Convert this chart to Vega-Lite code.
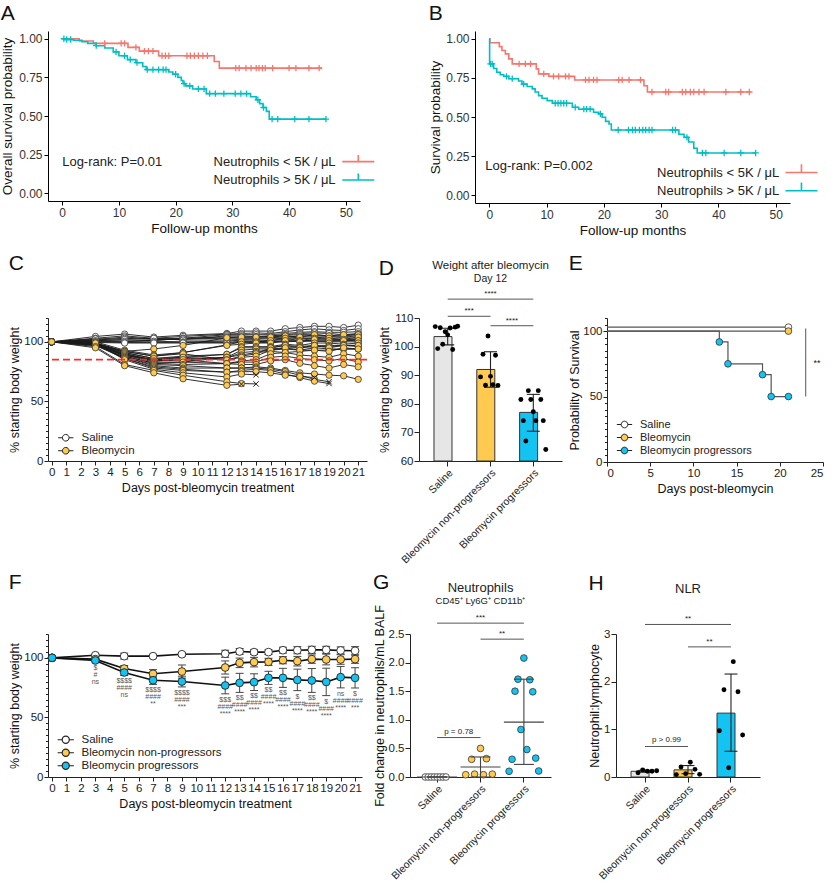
{
"$schema":"https://vega.github.io/schema/vega-lite/v6.json",
"background":"white",
"padding":{"left":0,"top":3,"right":0,"bottom":0},
"spacing":16,
"align":"none",
"resolve":{"scale":{"fill":"independent","color":"independent","xOffset":"independent"}},
"config":{
 "font":"Liberation Sans",
 "view":{"stroke":null},
 "axis":{"domainColor":"#222","tickColor":"#222","labelColor":"#222","titleColor":"#111","titleFontWeight":"normal","labelFontSize":11,"titleFontSize":12,"grid":false,"tickSize":4,"labelPadding":1.5,"titlePadding":3,"labelOverlap":false,"tickCount":100},
 "legend":{"labelFontSize":11,"labelColor":"#222"},
 "title":{"fontWeight":"normal","fontSize":21,"anchor":"start","frame":"bounds","color":"#111"},
 "text":{"color":"#222"}
},
"datasets":{
"kmA":[
{"g":"low","t":0,"s":1},{"g":"low","t":3,"s":0.985},{"g":"low","t":5.5,"s":0.97},{"g":"low","t":11.6,"s":0.944},{"g":"low","t":13.6,"s":0.92},{"g":"low","t":17,"s":0.89},{"g":"low","t":26.8,"s":0.853},{"g":"low","t":27.7,"s":0.81},{"g":"low","t":45.8,"s":0.81},
{"g":"high","t":0,"s":1},{"g":"high","t":0.5,"s":0.995},{"g":"high","t":2,"s":0.99},{"g":"high","t":3.5,"s":0.98},{"g":"high","t":4.5,"s":0.97},{"g":"high","t":6,"s":0.955},{"g":"high","t":7.5,"s":0.94},{"g":"high","t":9,"s":0.915},{"g":"high","t":10,"s":0.89},{"g":"high","t":11.5,"s":0.865},{"g":"high","t":13,"s":0.845},{"g":"high","t":14.2,"s":0.82},{"g":"high","t":14.8,"s":0.8},{"g":"high","t":18.8,"s":0.785},{"g":"high","t":19.5,"s":0.77},{"g":"high","t":20.4,"s":0.75},{"g":"high","t":21,"s":0.73},{"g":"high","t":21.3,"s":0.71},{"g":"high","t":21.8,"s":0.695},{"g":"high","t":23,"s":0.675},{"g":"high","t":25.4,"s":0.645},{"g":"high","t":33.2,"s":0.625},{"g":"high","t":34.2,"s":0.605},{"g":"high","t":34.8,"s":0.58},{"g":"high","t":35.4,"s":0.555},{"g":"high","t":36,"s":0.53},{"g":"high","t":36.5,"s":0.48},{"g":"high","t":46.5,"s":0.48}
],
"cenA":[
{"g":"low","t":7.5,"s":0.97},{"g":"low","t":10.4,"s":0.97},{"g":"low","t":11,"s":0.97},{"g":"low","t":13,"s":0.944},{"g":"low","t":14.5,"s":0.92},{"g":"low","t":15.2,"s":0.92},{"g":"low","t":16,"s":0.92},{"g":"low","t":17.6,"s":0.89},{"g":"low","t":18.2,"s":0.89},{"g":"low","t":18.8,"s":0.89},{"g":"low","t":22,"s":0.89},{"g":"low","t":22.6,"s":0.89},{"g":"low","t":23.3,"s":0.89},{"g":"low","t":24,"s":0.89},{"g":"low","t":24.8,"s":0.89},{"g":"low","t":25.6,"s":0.89},{"g":"low","t":30.6,"s":0.81},{"g":"low","t":31.2,"s":0.81},{"g":"low","t":32.4,"s":0.81},{"g":"low","t":33.3,"s":0.81},{"g":"low","t":34.2,"s":0.81},{"g":"low","t":34.7,"s":0.81},{"g":"low","t":35.3,"s":0.81},{"g":"low","t":35.8,"s":0.81},{"g":"low","t":37.1,"s":0.81},{"g":"low","t":40,"s":0.81},{"g":"low","t":41.2,"s":0.81},{"g":"low","t":43.5,"s":0.81},{"g":"low","t":45.3,"s":0.81},
{"g":"high","t":0.3,"s":1},{"g":"high","t":0.8,"s":0.995},{"g":"high","t":1.5,"s":0.995},{"g":"high","t":6,"s":0.955},{"g":"high","t":9.5,"s":0.915},{"g":"high","t":11,"s":0.89},{"g":"high","t":12,"s":0.865},{"g":"high","t":13.2,"s":0.845},{"g":"high","t":15,"s":0.8},{"g":"high","t":16,"s":0.8},{"g":"high","t":17,"s":0.8},{"g":"high","t":17.8,"s":0.8},{"g":"high","t":18.3,"s":0.8},{"g":"high","t":20,"s":0.77},{"g":"high","t":21.5,"s":0.71},{"g":"high","t":22.5,"s":0.695},{"g":"high","t":24,"s":0.675},{"g":"high","t":25,"s":0.675},{"g":"high","t":26,"s":0.645},{"g":"high","t":27,"s":0.645},{"g":"high","t":28.5,"s":0.645},{"g":"high","t":30.5,"s":0.645},{"g":"high","t":31.5,"s":0.645},{"g":"high","t":32.5,"s":0.645},{"g":"high","t":34.5,"s":0.605},{"g":"high","t":35.5,"s":0.555},{"g":"high","t":37,"s":0.48},{"g":"high","t":38,"s":0.48},{"g":"high","t":41,"s":0.48},{"g":"high","t":43.5,"s":0.48},{"g":"high","t":46.5,"s":0.48}
],
"kmB":[
{"g":"low","t":0,"s":1},{"g":"low","t":0.1,"s":0.975},{"g":"low","t":1.75,"s":0.95},{"g":"low","t":2.2,"s":0.925},{"g":"low","t":2.8,"s":0.904},{"g":"low","t":3.4,"s":0.872},{"g":"low","t":4,"s":0.84},{"g":"low","t":8.2,"s":0.808},{"g":"low","t":8.6,"s":0.776},{"g":"low","t":10.4,"s":0.76},{"g":"low","t":14.9,"s":0.737},{"g":"low","t":27,"s":0.7},{"g":"low","t":27.6,"s":0.66},{"g":"low","t":45.6,"s":0.66},
{"g":"high","t":0,"s":1},{"g":"high","t":0.05,"s":0.84},{"g":"high","t":0.75,"s":0.81},{"g":"high","t":1.3,"s":0.786},{"g":"high","t":1.9,"s":0.77},{"g":"high","t":2.5,"s":0.76},{"g":"high","t":3.4,"s":0.745},{"g":"high","t":5.1,"s":0.73},{"g":"high","t":5.7,"s":0.71},{"g":"high","t":6.6,"s":0.695},{"g":"high","t":7.5,"s":0.68},{"g":"high","t":8,"s":0.66},{"g":"high","t":8.6,"s":0.637},{"g":"high","t":9.2,"s":0.62},{"g":"high","t":10.1,"s":0.605},{"g":"high","t":11,"s":0.588},{"g":"high","t":14.5,"s":0.562},{"g":"high","t":15.6,"s":0.55},{"g":"high","t":18.2,"s":0.53},{"g":"high","t":19.1,"s":0.52},{"g":"high","t":19.7,"s":0.498},{"g":"high","t":20.3,"s":0.472},{"g":"high","t":20.9,"s":0.455},{"g":"high","t":21.3,"s":0.417},{"g":"high","t":33.1,"s":0.39},{"g":"high","t":34,"s":0.37},{"g":"high","t":34.8,"s":0.34},{"g":"high","t":35.7,"s":0.3},{"g":"high","t":36.3,"s":0.27},{"g":"high","t":46.5,"s":0.27}
],
"cenB":[
{"g":"low","t":5.2,"s":0.84},{"g":"low","t":6.3,"s":0.84},{"g":"low","t":7.2,"s":0.84},{"g":"low","t":9.5,"s":0.776},{"g":"low","t":11.2,"s":0.76},{"g":"low","t":12.1,"s":0.76},{"g":"low","t":13.3,"s":0.76},{"g":"low","t":13.9,"s":0.76},{"g":"low","t":16.8,"s":0.737},{"g":"low","t":17.4,"s":0.737},{"g":"low","t":18.2,"s":0.737},{"g":"low","t":18.8,"s":0.737},{"g":"low","t":22.6,"s":0.737},{"g":"low","t":23.2,"s":0.737},{"g":"low","t":24.4,"s":0.737},{"g":"low","t":26.4,"s":0.737},{"g":"low","t":28.4,"s":0.66},{"g":"low","t":30.8,"s":0.66},{"g":"low","t":31.3,"s":0.66},{"g":"low","t":33.7,"s":0.66},{"g":"low","t":34.3,"s":0.66},{"g":"low","t":35.1,"s":0.66},{"g":"low","t":35.7,"s":0.66},{"g":"low","t":36.6,"s":0.66},{"g":"low","t":37.5,"s":0.66},{"g":"low","t":41.3,"s":0.66},{"g":"low","t":43.9,"s":0.66},{"g":"low","t":45.4,"s":0.66},
{"g":"high","t":0.2,"s":0.84},{"g":"high","t":0.5,"s":0.84},{"g":"high","t":3,"s":0.76},{"g":"high","t":4,"s":0.745},{"g":"high","t":6,"s":0.71},{"g":"high","t":11.5,"s":0.588},{"g":"high","t":12,"s":0.588},{"g":"high","t":12.5,"s":0.588},{"g":"high","t":13,"s":0.588},{"g":"high","t":13.5,"s":0.588},{"g":"high","t":15,"s":0.562},{"g":"high","t":16.5,"s":0.55},{"g":"high","t":17,"s":0.55},{"g":"high","t":17.6,"s":0.55},{"g":"high","t":19.4,"s":0.52},{"g":"high","t":22.5,"s":0.417},{"g":"high","t":24.3,"s":0.417},{"g":"high","t":25,"s":0.417},{"g":"high","t":25.5,"s":0.417},{"g":"high","t":26.2,"s":0.417},{"g":"high","t":26.8,"s":0.417},{"g":"high","t":27.3,"s":0.417},{"g":"high","t":27.9,"s":0.417},{"g":"high","t":28.4,"s":0.417},{"g":"high","t":32,"s":0.417},{"g":"high","t":32.5,"s":0.417},{"g":"high","t":34.5,"s":0.37},{"g":"high","t":37.2,"s":0.27},{"g":"high","t":37.8,"s":0.27},{"g":"high","t":41,"s":0.27},{"g":"high","t":43.9,"s":0.27},{"g":"high","t":46.5,"s":0.27}
],
"mice":[
{"m":"S1","g":"Saline","d":0,"w":100},{"m":"S1","g":"Saline","d":3,"w":104.5},{"m":"S1","g":"Saline","d":5,"w":106.5},{"m":"S1","g":"Saline","d":7,"w":104},{"m":"S1","g":"Saline","d":9,"w":105.5},{"m":"S1","g":"Saline","d":12,"w":107},{"m":"S1","g":"Saline","d":13,"w":109},{"m":"S1","g":"Saline","d":14,"w":109},{"m":"S1","g":"Saline","d":15,"w":109},{"m":"S1","g":"Saline","d":16,"w":111},{"m":"S1","g":"Saline","d":17,"w":112},{"m":"S1","g":"Saline","d":18,"w":113},{"m":"S1","g":"Saline","d":19,"w":113},{"m":"S1","g":"Saline","d":20,"w":112},{"m":"S1","g":"Saline","d":21,"w":114},
{"m":"S2","g":"Saline","d":0,"w":100},{"m":"S2","g":"Saline","d":3,"w":103},{"m":"S2","g":"Saline","d":5,"w":105},{"m":"S2","g":"Saline","d":7,"w":103},{"m":"S2","g":"Saline","d":9,"w":104.5},{"m":"S2","g":"Saline","d":12,"w":106.5},{"m":"S2","g":"Saline","d":13,"w":107},{"m":"S2","g":"Saline","d":14,"w":107.5},{"m":"S2","g":"Saline","d":15,"w":107},{"m":"S2","g":"Saline","d":16,"w":108.5},{"m":"S2","g":"Saline","d":17,"w":110},{"m":"S2","g":"Saline","d":18,"w":111},{"m":"S2","g":"Saline","d":19,"w":110},{"m":"S2","g":"Saline","d":20,"w":109.5},{"m":"S2","g":"Saline","d":21,"w":111},
{"m":"S3","g":"Saline","d":0,"w":100},{"m":"S3","g":"Saline","d":3,"w":102},{"m":"S3","g":"Saline","d":5,"w":104},{"m":"S3","g":"Saline","d":7,"w":102.5},{"m":"S3","g":"Saline","d":9,"w":103},{"m":"S3","g":"Saline","d":12,"w":106},{"m":"S3","g":"Saline","d":13,"w":106},{"m":"S3","g":"Saline","d":14,"w":106},{"m":"S3","g":"Saline","d":15,"w":106},{"m":"S3","g":"Saline","d":16,"w":107},{"m":"S3","g":"Saline","d":17,"w":108},{"m":"S3","g":"Saline","d":18,"w":108.5},{"m":"S3","g":"Saline","d":19,"w":108},{"m":"S3","g":"Saline","d":20,"w":108},{"m":"S3","g":"Saline","d":21,"w":108.5},
{"m":"S4","g":"Saline","d":0,"w":100},{"m":"S4","g":"Saline","d":3,"w":101.5},{"m":"S4","g":"Saline","d":5,"w":103},{"m":"S4","g":"Saline","d":7,"w":102},{"m":"S4","g":"Saline","d":9,"w":102},{"m":"S4","g":"Saline","d":12,"w":105},{"m":"S4","g":"Saline","d":13,"w":105},{"m":"S4","g":"Saline","d":14,"w":104.5},{"m":"S4","g":"Saline","d":15,"w":105},{"m":"S4","g":"Saline","d":16,"w":106},{"m":"S4","g":"Saline","d":17,"w":107},{"m":"S4","g":"Saline","d":18,"w":107.5},{"m":"S4","g":"Saline","d":19,"w":107},{"m":"S4","g":"Saline","d":20,"w":106},{"m":"S4","g":"Saline","d":21,"w":107},
{"m":"S5","g":"Saline","d":0,"w":100},{"m":"S5","g":"Saline","d":3,"w":101},{"m":"S5","g":"Saline","d":5,"w":101.5},{"m":"S5","g":"Saline","d":7,"w":101},{"m":"S5","g":"Saline","d":9,"w":103},{"m":"S5","g":"Saline","d":12,"w":104},{"m":"S5","g":"Saline","d":13,"w":104},{"m":"S5","g":"Saline","d":14,"w":104},{"m":"S5","g":"Saline","d":15,"w":104.5},{"m":"S5","g":"Saline","d":16,"w":105.5},{"m":"S5","g":"Saline","d":17,"w":106},{"m":"S5","g":"Saline","d":18,"w":106},{"m":"S5","g":"Saline","d":19,"w":105},{"m":"S5","g":"Saline","d":20,"w":105},{"m":"S5","g":"Saline","d":21,"w":106},
{"m":"S6","g":"Saline","d":0,"w":100},{"m":"S6","g":"Saline","d":3,"w":100.5},{"m":"S6","g":"Saline","d":5,"w":100},{"m":"S6","g":"Saline","d":7,"w":101.5},{"m":"S6","g":"Saline","d":9,"w":102.5},{"m":"S6","g":"Saline","d":12,"w":103},{"m":"S6","g":"Saline","d":13,"w":103},{"m":"S6","g":"Saline","d":14,"w":103},{"m":"S6","g":"Saline","d":15,"w":103.5},{"m":"S6","g":"Saline","d":16,"w":104},{"m":"S6","g":"Saline","d":17,"w":105},{"m":"S6","g":"Saline","d":18,"w":105},{"m":"S6","g":"Saline","d":19,"w":104.5},{"m":"S6","g":"Saline","d":20,"w":104},{"m":"S6","g":"Saline","d":21,"w":105},
{"m":"S7","g":"Saline","d":0,"w":100},{"m":"S7","g":"Saline","d":3,"w":102.5},{"m":"S7","g":"Saline","d":5,"w":102},{"m":"S7","g":"Saline","d":7,"w":103},{"m":"S7","g":"Saline","d":9,"w":101.5},{"m":"S7","g":"Saline","d":12,"w":101.5},{"m":"S7","g":"Saline","d":13,"w":102},{"m":"S7","g":"Saline","d":14,"w":102.5},{"m":"S7","g":"Saline","d":15,"w":102.5},{"m":"S7","g":"Saline","d":16,"w":103},{"m":"S7","g":"Saline","d":17,"w":104},{"m":"S7","g":"Saline","d":18,"w":104},{"m":"S7","g":"Saline","d":19,"w":103},{"m":"S7","g":"Saline","d":20,"w":103.5},{"m":"S7","g":"Saline","d":21,"w":103},
{"m":"S8","g":"Saline","d":0,"w":100},{"m":"S8","g":"Saline","d":3,"w":101},{"m":"S8","g":"Saline","d":5,"w":100.5},{"m":"S8","g":"Saline","d":7,"w":100.5},{"m":"S8","g":"Saline","d":9,"w":100},{"m":"S8","g":"Saline","d":12,"w":100.5},{"m":"S8","g":"Saline","d":13,"w":101.5},{"m":"S8","g":"Saline","d":14,"w":101.5},{"m":"S8","g":"Saline","d":15,"w":101},{"m":"S8","g":"Saline","d":16,"w":102},{"m":"S8","g":"Saline","d":17,"w":103},{"m":"S8","g":"Saline","d":18,"w":102.5},{"m":"S8","g":"Saline","d":19,"w":102},{"m":"S8","g":"Saline","d":20,"w":102},{"m":"S8","g":"Saline","d":21,"w":102},
{"m":"S9","g":"Saline","d":0,"w":100},{"m":"S9","g":"Saline","d":3,"w":100},{"m":"S9","g":"Saline","d":5,"w":99.5},{"m":"S9","g":"Saline","d":7,"w":99.5},{"m":"S9","g":"Saline","d":9,"w":99.5},{"m":"S9","g":"Saline","d":12,"w":99.5},{"m":"S9","g":"Saline","d":13,"w":100.5},{"m":"S9","g":"Saline","d":14,"w":100.5},{"m":"S9","g":"Saline","d":15,"w":100},{"m":"S9","g":"Saline","d":16,"w":101},{"m":"S9","g":"Saline","d":17,"w":101},{"m":"S9","g":"Saline","d":18,"w":101},{"m":"S9","g":"Saline","d":19,"w":100.5},{"m":"S9","g":"Saline","d":20,"w":101},{"m":"S9","g":"Saline","d":21,"w":101.5},
{"m":"S10","g":"Saline","d":0,"w":100},{"m":"S10","g":"Saline","d":3,"w":99.5},{"m":"S10","g":"Saline","d":5,"w":99},{"m":"S10","g":"Saline","d":7,"w":99},{"m":"S10","g":"Saline","d":9,"w":99},{"m":"S10","g":"Saline","d":12,"w":99},{"m":"S10","g":"Saline","d":13,"w":99.5},{"m":"S10","g":"Saline","d":14,"w":99.5},{"m":"S10","g":"Saline","d":15,"w":99.5},{"m":"S10","g":"Saline","d":16,"w":100},{"m":"S10","g":"Saline","d":17,"w":100.5},{"m":"S10","g":"Saline","d":18,"w":100.5},{"m":"S10","g":"Saline","d":19,"w":100},{"m":"S10","g":"Saline","d":20,"w":100},{"m":"S10","g":"Saline","d":21,"w":100},
{"m":"N1","g":"Bleomycin","d":0,"w":100},{"m":"N1","g":"Bleomycin","d":3,"w":99},{"m":"N1","g":"Bleomycin","d":5,"w":92},{"m":"N1","g":"Bleomycin","d":7,"w":94},{"m":"N1","g":"Bleomycin","d":9,"w":97},{"m":"N1","g":"Bleomycin","d":12,"w":103.5},{"m":"N1","g":"Bleomycin","d":13,"w":104},{"m":"N1","g":"Bleomycin","d":14,"w":104},{"m":"N1","g":"Bleomycin","d":15,"w":104},{"m":"N1","g":"Bleomycin","d":16,"w":105},{"m":"N1","g":"Bleomycin","d":17,"w":104},{"m":"N1","g":"Bleomycin","d":18,"w":106},{"m":"N1","g":"Bleomycin","d":19,"w":105},{"m":"N1","g":"Bleomycin","d":20,"w":106},{"m":"N1","g":"Bleomycin","d":21,"w":106},
{"m":"N2","g":"Bleomycin","d":0,"w":100},{"m":"N2","g":"Bleomycin","d":3,"w":100},{"m":"N2","g":"Bleomycin","d":5,"w":93},{"m":"N2","g":"Bleomycin","d":7,"w":89},{"m":"N2","g":"Bleomycin","d":9,"w":91},{"m":"N2","g":"Bleomycin","d":12,"w":97.5},{"m":"N2","g":"Bleomycin","d":13,"w":100},{"m":"N2","g":"Bleomycin","d":14,"w":100},{"m":"N2","g":"Bleomycin","d":15,"w":101},{"m":"N2","g":"Bleomycin","d":16,"w":103},{"m":"N2","g":"Bleomycin","d":17,"w":101},{"m":"N2","g":"Bleomycin","d":18,"w":103},{"m":"N2","g":"Bleomycin","d":19,"w":103},{"m":"N2","g":"Bleomycin","d":20,"w":102},{"m":"N2","g":"Bleomycin","d":21,"w":104},
{"m":"N3","g":"Bleomycin","d":0,"w":100},{"m":"N3","g":"Bleomycin","d":3,"w":98},{"m":"N3","g":"Bleomycin","d":5,"w":92},{"m":"N3","g":"Bleomycin","d":7,"w":88},{"m":"N3","g":"Bleomycin","d":9,"w":91},{"m":"N3","g":"Bleomycin","d":12,"w":97},{"m":"N3","g":"Bleomycin","d":13,"w":98},{"m":"N3","g":"Bleomycin","d":14,"w":99},{"m":"N3","g":"Bleomycin","d":15,"w":99},{"m":"N3","g":"Bleomycin","d":16,"w":101},{"m":"N3","g":"Bleomycin","d":17,"w":100},{"m":"N3","g":"Bleomycin","d":18,"w":102},{"m":"N3","g":"Bleomycin","d":19,"w":101},{"m":"N3","g":"Bleomycin","d":20,"w":101},{"m":"N3","g":"Bleomycin","d":21,"w":101},
{"m":"N4","g":"Bleomycin","d":0,"w":100},{"m":"N4","g":"Bleomycin","d":3,"w":99},{"m":"N4","g":"Bleomycin","d":5,"w":91},{"m":"N4","g":"Bleomycin","d":7,"w":86},{"m":"N4","g":"Bleomycin","d":9,"w":88},{"m":"N4","g":"Bleomycin","d":12,"w":89.5},{"m":"N4","g":"Bleomycin","d":13,"w":96},{"m":"N4","g":"Bleomycin","d":14,"w":96},{"m":"N4","g":"Bleomycin","d":15,"w":96},{"m":"N4","g":"Bleomycin","d":16,"w":98},{"m":"N4","g":"Bleomycin","d":17,"w":97},{"m":"N4","g":"Bleomycin","d":18,"w":99},{"m":"N4","g":"Bleomycin","d":19,"w":99},{"m":"N4","g":"Bleomycin","d":20,"w":98},{"m":"N4","g":"Bleomycin","d":21,"w":99},
{"m":"N5","g":"Bleomycin","d":0,"w":100},{"m":"N5","g":"Bleomycin","d":3,"w":98},{"m":"N5","g":"Bleomycin","d":5,"w":90},{"m":"N5","g":"Bleomycin","d":7,"w":85},{"m":"N5","g":"Bleomycin","d":9,"w":87},{"m":"N5","g":"Bleomycin","d":12,"w":89.5},{"m":"N5","g":"Bleomycin","d":13,"w":95},{"m":"N5","g":"Bleomycin","d":14,"w":95},{"m":"N5","g":"Bleomycin","d":15,"w":95},{"m":"N5","g":"Bleomycin","d":16,"w":97},{"m":"N5","g":"Bleomycin","d":17,"w":96},{"m":"N5","g":"Bleomycin","d":18,"w":97},{"m":"N5","g":"Bleomycin","d":19,"w":97},{"m":"N5","g":"Bleomycin","d":20,"w":97},{"m":"N5","g":"Bleomycin","d":21,"w":97},
{"m":"N6","g":"Bleomycin","d":0,"w":100},{"m":"N6","g":"Bleomycin","d":3,"w":99},{"m":"N6","g":"Bleomycin","d":5,"w":89},{"m":"N6","g":"Bleomycin","d":7,"w":85},{"m":"N6","g":"Bleomycin","d":9,"w":86},{"m":"N6","g":"Bleomycin","d":12,"w":87},{"m":"N6","g":"Bleomycin","d":13,"w":93},{"m":"N6","g":"Bleomycin","d":14,"w":94},{"m":"N6","g":"Bleomycin","d":15,"w":94},{"m":"N6","g":"Bleomycin","d":16,"w":95},{"m":"N6","g":"Bleomycin","d":17,"w":95},{"m":"N6","g":"Bleomycin","d":18,"w":96},{"m":"N6","g":"Bleomycin","d":19,"w":96},{"m":"N6","g":"Bleomycin","d":20,"w":97},{"m":"N6","g":"Bleomycin","d":21,"w":96},
{"m":"N7","g":"Bleomycin","d":0,"w":100},{"m":"N7","g":"Bleomycin","d":3,"w":98},{"m":"N7","g":"Bleomycin","d":5,"w":89},{"m":"N7","g":"Bleomycin","d":7,"w":84},{"m":"N7","g":"Bleomycin","d":9,"w":85},{"m":"N7","g":"Bleomycin","d":12,"w":86.5},{"m":"N7","g":"Bleomycin","d":13,"w":91},{"m":"N7","g":"Bleomycin","d":14,"w":92},{"m":"N7","g":"Bleomycin","d":15,"w":93},{"m":"N7","g":"Bleomycin","d":16,"w":94},{"m":"N7","g":"Bleomycin","d":17,"w":93},{"m":"N7","g":"Bleomycin","d":18,"w":95},{"m":"N7","g":"Bleomycin","d":19,"w":94},{"m":"N7","g":"Bleomycin","d":20,"w":94},{"m":"N7","g":"Bleomycin","d":21,"w":94},
{"m":"N8","g":"Bleomycin","d":0,"w":100},{"m":"N8","g":"Bleomycin","d":3,"w":99},{"m":"N8","g":"Bleomycin","d":5,"w":88},{"m":"N8","g":"Bleomycin","d":7,"w":82},{"m":"N8","g":"Bleomycin","d":9,"w":83},{"m":"N8","g":"Bleomycin","d":12,"w":87},{"m":"N8","g":"Bleomycin","d":13,"w":89},{"m":"N8","g":"Bleomycin","d":14,"w":91},{"m":"N8","g":"Bleomycin","d":15,"w":92},{"m":"N8","g":"Bleomycin","d":16,"w":91},{"m":"N8","g":"Bleomycin","d":17,"w":92},{"m":"N8","g":"Bleomycin","d":18,"w":93},{"m":"N8","g":"Bleomycin","d":19,"w":93},{"m":"N8","g":"Bleomycin","d":20,"w":94},{"m":"N8","g":"Bleomycin","d":21,"w":94},
{"m":"P1","g":"Bleomycin","d":0,"w":100},{"m":"P1","g":"Bleomycin","d":3,"w":99},{"m":"P1","g":"Bleomycin","d":5,"w":92},{"m":"P1","g":"Bleomycin","d":7,"w":88},{"m":"P1","g":"Bleomycin","d":9,"w":90},{"m":"P1","g":"Bleomycin","d":12,"w":84.8},{"m":"P1","g":"Bleomycin","d":13,"w":88},{"m":"P1","g":"Bleomycin","d":14,"w":90},{"m":"P1","g":"Bleomycin","d":15,"w":95},{"m":"P1","g":"Bleomycin","d":16,"w":97},{"m":"P1","g":"Bleomycin","d":17,"w":95},{"m":"P1","g":"Bleomycin","d":18,"w":97},{"m":"P1","g":"Bleomycin","d":19,"w":95},{"m":"P1","g":"Bleomycin","d":20,"w":97},{"m":"P1","g":"Bleomycin","d":21,"w":97},
{"m":"P2","g":"Bleomycin","d":0,"w":100},{"m":"P2","g":"Bleomycin","d":3,"w":98},{"m":"P2","g":"Bleomycin","d":5,"w":91},{"m":"P2","g":"Bleomycin","d":7,"w":86},{"m":"P2","g":"Bleomycin","d":9,"w":87},{"m":"P2","g":"Bleomycin","d":12,"w":84.8},{"m":"P2","g":"Bleomycin","d":13,"w":87},{"m":"P2","g":"Bleomycin","d":14,"w":88},{"m":"P2","g":"Bleomycin","d":15,"w":93},{"m":"P2","g":"Bleomycin","d":16,"w":95},{"m":"P2","g":"Bleomycin","d":17,"w":93},{"m":"P2","g":"Bleomycin","d":18,"w":93},{"m":"P2","g":"Bleomycin","d":19,"w":92},{"m":"P2","g":"Bleomycin","d":20,"w":95},{"m":"P2","g":"Bleomycin","d":21,"w":94},
{"m":"P3","g":"Bleomycin","d":0,"w":100},{"m":"P3","g":"Bleomycin","d":3,"w":98},{"m":"P3","g":"Bleomycin","d":5,"w":90},{"m":"P3","g":"Bleomycin","d":7,"w":84},{"m":"P3","g":"Bleomycin","d":9,"w":85},{"m":"P3","g":"Bleomycin","d":12,"w":81.7},{"m":"P3","g":"Bleomycin","d":13,"w":84},{"m":"P3","g":"Bleomycin","d":14,"w":85},{"m":"P3","g":"Bleomycin","d":15,"w":90},{"m":"P3","g":"Bleomycin","d":16,"w":91},{"m":"P3","g":"Bleomycin","d":17,"w":89},{"m":"P3","g":"Bleomycin","d":18,"w":88},{"m":"P3","g":"Bleomycin","d":19,"w":87},{"m":"P3","g":"Bleomycin","d":20,"w":90},{"m":"P3","g":"Bleomycin","d":21,"w":88},
{"m":"P4","g":"Bleomycin","d":0,"w":100},{"m":"P4","g":"Bleomycin","d":3,"w":97},{"m":"P4","g":"Bleomycin","d":5,"w":89},{"m":"P4","g":"Bleomycin","d":7,"w":83},{"m":"P4","g":"Bleomycin","d":9,"w":83},{"m":"P4","g":"Bleomycin","d":12,"w":81.7},{"m":"P4","g":"Bleomycin","d":13,"w":83},{"m":"P4","g":"Bleomycin","d":14,"w":83},{"m":"P4","g":"Bleomycin","d":15,"w":87},{"m":"P4","g":"Bleomycin","d":16,"w":88},{"m":"P4","g":"Bleomycin","d":17,"w":86},{"m":"P4","g":"Bleomycin","d":18,"w":85},{"m":"P4","g":"Bleomycin","d":19,"w":84},{"m":"P4","g":"Bleomycin","d":20,"w":86},{"m":"P4","g":"Bleomycin","d":21,"w":83},
{"m":"P5","g":"Bleomycin","d":0,"w":100},{"m":"P5","g":"Bleomycin","d":3,"w":98},{"m":"P5","g":"Bleomycin","d":5,"w":88},{"m":"P5","g":"Bleomycin","d":7,"w":82},{"m":"P5","g":"Bleomycin","d":9,"w":81},{"m":"P5","g":"Bleomycin","d":12,"w":81.7},{"m":"P5","g":"Bleomycin","d":13,"w":81},{"m":"P5","g":"Bleomycin","d":14,"w":81},{"m":"P5","g":"Bleomycin","d":15,"w":84},{"m":"P5","g":"Bleomycin","d":16,"w":85},{"m":"P5","g":"Bleomycin","d":17,"w":82},{"m":"P5","g":"Bleomycin","d":18,"w":80},{"m":"P5","g":"Bleomycin","d":19,"w":78},{"m":"P5","g":"Bleomycin","d":20,"w":81},{"m":"P5","g":"Bleomycin","d":21,"w":79},
{"m":"P6","g":"Bleomycin","d":0,"w":100},{"m":"P6","g":"Bleomycin","d":3,"w":97},{"m":"P6","g":"Bleomycin","d":5,"w":87},{"m":"P6","g":"Bleomycin","d":7,"w":81},{"m":"P6","g":"Bleomycin","d":9,"w":80},{"m":"P6","g":"Bleomycin","d":12,"w":78},{"m":"P6","g":"Bleomycin","d":13,"w":78},{"m":"P6","g":"Bleomycin","d":14,"w":79},{"m":"P6","g":"Bleomycin","d":15,"w":78},{"m":"P6","g":"Bleomycin","d":16,"w":76},{"m":"P6","g":"Bleomycin","d":17,"w":74},{"m":"P6","g":"Bleomycin","d":18,"w":73},{"m":"P6","g":"Bleomycin","d":19,"w":72},{"m":"P6","g":"Bleomycin","d":20,"w":71.5},{"m":"P6","g":"Bleomycin","d":21,"w":68.5},
{"m":"P7","g":"Bleomycin","d":0,"w":100},{"m":"P7","g":"Bleomycin","d":3,"w":98},{"m":"P7","g":"Bleomycin","d":5,"w":87},{"m":"P7","g":"Bleomycin","d":7,"w":80},{"m":"P7","g":"Bleomycin","d":9,"w":78},{"m":"P7","g":"Bleomycin","d":12,"w":78},{"m":"P7","g":"Bleomycin","d":13,"w":78},{"m":"P7","g":"Bleomycin","d":14,"w":78},{"m":"P7","g":"Bleomycin","d":15,"w":77},{"m":"P7","g":"Bleomycin","d":16,"w":75},{"m":"P7","g":"Bleomycin","d":17,"w":72},{"m":"P7","g":"Bleomycin","d":18,"w":68.5},{"m":"P7","g":"Bleomycin","d":19,"w":66.5,"dead":true},
{"m":"P8","g":"Bleomycin","d":0,"w":100},{"m":"P8","g":"Bleomycin","d":3,"w":97},{"m":"P8","g":"Bleomycin","d":5,"w":86},{"m":"P8","g":"Bleomycin","d":7,"w":79},{"m":"P8","g":"Bleomycin","d":9,"w":77},{"m":"P8","g":"Bleomycin","d":12,"w":74.5},{"m":"P8","g":"Bleomycin","d":13,"w":76},{"m":"P8","g":"Bleomycin","d":14,"w":77},{"m":"P8","g":"Bleomycin","d":15,"w":76},{"m":"P8","g":"Bleomycin","d":16,"w":73},{"m":"P8","g":"Bleomycin","d":17,"w":70},{"m":"P8","g":"Bleomycin","d":18,"w":67},{"m":"P8","g":"Bleomycin","d":19,"w":65,"dead":true},
{"m":"P9","g":"Bleomycin","d":0,"w":100},{"m":"P9","g":"Bleomycin","d":3,"w":98},{"m":"P9","g":"Bleomycin","d":5,"w":86},{"m":"P9","g":"Bleomycin","d":7,"w":78},{"m":"P9","g":"Bleomycin","d":9,"w":76},{"m":"P9","g":"Bleomycin","d":12,"w":74.5},{"m":"P9","g":"Bleomycin","d":13,"w":75},{"m":"P9","g":"Bleomycin","d":14,"w":75},{"m":"P9","g":"Bleomycin","d":15,"w":74},{"m":"P9","g":"Bleomycin","d":16,"w":72},{"m":"P9","g":"Bleomycin","d":17,"w":71},{"m":"P9","g":"Bleomycin","d":18,"w":70,"dead":true},
{"m":"P10","g":"Bleomycin","d":0,"w":100},{"m":"P10","g":"Bleomycin","d":3,"w":99},{"m":"P10","g":"Bleomycin","d":5,"w":85},{"m":"P10","g":"Bleomycin","d":7,"w":77},{"m":"P10","g":"Bleomycin","d":9,"w":74},{"m":"P10","g":"Bleomycin","d":12,"w":70.5},{"m":"P10","g":"Bleomycin","d":13,"w":73},{"m":"P10","g":"Bleomycin","d":14,"w":72.3,"dead":true},
{"m":"P11","g":"Bleomycin","d":0,"w":100},{"m":"P11","g":"Bleomycin","d":3,"w":96},{"m":"P11","g":"Bleomycin","d":5,"w":81},{"m":"P11","g":"Bleomycin","d":7,"w":76},{"m":"P11","g":"Bleomycin","d":9,"w":72},{"m":"P11","g":"Bleomycin","d":12,"w":66.5},{"m":"P11","g":"Bleomycin","d":13,"w":65},{"m":"P11","g":"Bleomycin","d":14,"w":64.7,"dead":true},
{"m":"P12","g":"Bleomycin","d":0,"w":100},{"m":"P12","g":"Bleomycin","d":3,"w":95},{"m":"P12","g":"Bleomycin","d":5,"w":80},{"m":"P12","g":"Bleomycin","d":7,"w":74},{"m":"P12","g":"Bleomycin","d":9,"w":69},{"m":"P12","g":"Bleomycin","d":12,"w":63.5},{"m":"P12","g":"Bleomycin","d":13,"w":64.5,"dead":true}
],
"dBar":[{"g":"Saline","mean":103.5,"lo":100.6,"hi":106.4},{"g":"Bleomycin non-progressors","mean":92,"lo":85.8,"hi":98.2},{"g":"Bleomycin progressors","mean":77,"lo":70.4,"hi":83.3}],
"dPts":[
{"g":"Saline","k":1,"v":107},{"g":"Saline","k":2,"v":99.3},{"g":"Saline","k":3,"v":106.6},{"g":"Saline","k":4,"v":100.8},{"g":"Saline","k":5,"v":105.2},{"g":"Saline","k":6,"v":104.1},{"g":"Saline","k":7,"v":106.5},{"g":"Saline","k":8,"v":99},{"g":"Saline","k":9,"v":106.8},{"g":"Saline","k":10,"v":107.1},
{"g":"Bleomycin non-progressors","k":2,"v":89.4},{"g":"Bleomycin non-progressors","k":3,"v":97.3},{"g":"Bleomycin non-progressors","k":4,"v":86.5},{"g":"Bleomycin non-progressors","k":5,"v":103.7},{"g":"Bleomycin non-progressors","k":6,"v":89.6},{"g":"Bleomycin non-progressors","k":7,"v":86.7},{"g":"Bleomycin non-progressors","k":8,"v":97},{"g":"Bleomycin non-progressors","k":9,"v":86.4},
{"g":"Bleomycin progressors","k":1,"v":81.5},{"g":"Bleomycin progressors","k":2,"v":74.1},{"g":"Bleomycin progressors","k":3,"v":67},{"g":"Bleomycin progressors","k":4,"v":84.6},{"g":"Bleomycin progressors","k":5,"v":81.5},{"g":"Bleomycin progressors","k":6,"v":77.2},{"g":"Bleomycin progressors","k":7,"v":74.1},{"g":"Bleomycin progressors","k":8,"v":84.6},{"g":"Bleomycin progressors","k":9,"v":81.5},{"g":"Bleomycin progressors","k":10,"v":74.1},{"g":"Bleomycin progressors","k":11,"v":64}
],
"kmE":[
{"g":"Saline","t":0,"p":103},{"g":"Saline","t":21,"p":103},
{"g":"Bleomycin","t":0,"p":100},{"g":"Bleomycin","t":21,"p":100},
{"g":"Bleomycin progressors","t":0,"p":100},{"g":"Bleomycin progressors","t":13,"p":91.7},{"g":"Bleomycin progressors","t":14,"p":75},{"g":"Bleomycin progressors","t":18,"p":66.7},{"g":"Bleomycin progressors","t":19,"p":50},{"g":"Bleomycin progressors","t":21,"p":50}
],
"fSum":[
{"g":"Saline","d":0,"m":100,"lo":100,"hi":100},{"g":"Saline","d":3,"m":102.2,"lo":101.2,"hi":103.2},{"g":"Saline","d":5,"m":101.4,"lo":98.9,"hi":103.9},{"g":"Saline","d":7,"m":101.4,"lo":99.9,"hi":102.9},{"g":"Saline","d":9,"m":103,"lo":101.5,"hi":104.5},{"g":"Saline","d":12,"m":103.4,"lo":100.4,"hi":106.4},{"g":"Saline","d":13,"m":105.3,"lo":102.8,"hi":107.8},{"g":"Saline","d":14,"m":104.8,"lo":102.8,"hi":106.8},{"g":"Saline","d":15,"m":104.8,"lo":102.8,"hi":106.8},{"g":"Saline","d":16,"m":106.4,"lo":103.9,"hi":108.9},{"g":"Saline","d":17,"m":106.4,"lo":103.4,"hi":109.4},{"g":"Saline","d":18,"m":106.7,"lo":103.7,"hi":109.7},{"g":"Saline","d":19,"m":106.7,"lo":103.7,"hi":109.7},{"g":"Saline","d":20,"m":106.2,"lo":103.2,"hi":109.2},{"g":"Saline","d":21,"m":105.9,"lo":102.4,"hi":109.4},
{"g":"Bleomycin non-progressors","d":0,"m":100,"lo":100,"hi":100},{"g":"Bleomycin non-progressors","d":3,"m":98.9,"lo":97.9,"hi":99.9},{"g":"Bleomycin non-progressors","d":5,"m":91,"lo":88.5,"hi":93.5},{"g":"Bleomycin non-progressors","d":7,"m":86.6,"lo":83.1,"hi":90.1},{"g":"Bleomycin non-progressors","d":9,"m":88.5,"lo":83,"hi":94},{"g":"Bleomycin non-progressors","d":12,"m":91.9,"lo":86.4,"hi":97.4},{"g":"Bleomycin non-progressors","d":13,"m":95.8,"lo":91.8,"hi":99.8},{"g":"Bleomycin non-progressors","d":14,"m":96.4,"lo":92.4,"hi":100.4},{"g":"Bleomycin non-progressors","d":15,"m":96.6,"lo":93.6,"hi":99.6},{"g":"Bleomycin non-progressors","d":16,"m":98,"lo":95,"hi":101},{"g":"Bleomycin non-progressors","d":17,"m":97.2,"lo":93.2,"hi":101.2},{"g":"Bleomycin non-progressors","d":18,"m":98.9,"lo":95.4,"hi":102.4},{"g":"Bleomycin non-progressors","d":19,"m":98.6,"lo":94.1,"hi":103.1},{"g":"Bleomycin non-progressors","d":20,"m":98.6,"lo":94.6,"hi":102.6},{"g":"Bleomycin non-progressors","d":21,"m":98.9,"lo":95.4,"hi":102.4},
{"g":"Bleomycin progressors","d":0,"m":100,"lo":100,"hi":100},{"g":"Bleomycin progressors","d":3,"m":97.8,"lo":96.8,"hi":98.8,"sig":["$","#","ns"]},{"g":"Bleomycin progressors","d":5,"m":87.7,"lo":85.2,"hi":90.2,"sig":["$$$$","####","ns"]},{"g":"Bleomycin progressors","d":7,"m":81.2,"lo":77.7,"hi":84.7,"sig":["$$$$","####","**"]},{"g":"Bleomycin progressors","d":9,"m":80.1,"lo":75.6,"hi":84.6,"sig":["$$$$","####","***"]},{"g":"Bleomycin progressors","d":12,"m":76.8,"lo":69.8,"hi":83.8,"sig":["$$$","####","****"]},{"g":"Bleomycin progressors","d":13,"m":79,"lo":71,"hi":87,"sig":["$$","####","****"]},{"g":"Bleomycin progressors","d":14,"m":79.6,"lo":72.6,"hi":86.6,"sig":["$$","####","****"]},{"g":"Bleomycin progressors","d":15,"m":83.2,"lo":77.7,"hi":88.7,"sig":["$$","####","****"]},{"g":"Bleomycin progressors","d":16,"m":83.2,"lo":75.2,"hi":91.2,"sig":["$$","####","****"]},{"g":"Bleomycin progressors","d":17,"m":81.5,"lo":72.5,"hi":90.5,"sig":["$","####","****"]},{"g":"Bleomycin progressors","d":18,"m":81,"lo":71,"hi":91,"sig":["$$","####","****"]},{"g":"Bleomycin progressors","d":19,"m":79.8,"lo":68.3,"hi":91.3,"sig":["$","####","****"]},{"g":"Bleomycin progressors","d":20,"m":83.8,"lo":74.8,"hi":92.8,"sig":["ns","####","****"]},{"g":"Bleomycin progressors","d":21,"m":83.2,"lo":74.7,"hi":91.7,"sig":["$","####","***"]}
],
"gPts":[
{"g":"Saline","k":2,"v":0},{"g":"Saline","k":3,"v":0},{"g":"Saline","k":4,"v":0},{"g":"Saline","k":5,"v":0},{"g":"Saline","k":6,"v":0},{"g":"Saline","k":7,"v":0},{"g":"Saline","k":8,"v":0},{"g":"Saline","k":9,"v":0},
{"g":"Bleomycin non-progressors","k":6,"v":0.5},{"g":"Bleomycin non-progressors","k":3,"v":0.31},{"g":"Bleomycin non-progressors","k":8,"v":0.32},{"g":"Bleomycin non-progressors","k":1,"v":0.04},{"g":"Bleomycin non-progressors","k":4,"v":0.05},{"g":"Bleomycin non-progressors","k":7,"v":0.04},{"g":"Bleomycin non-progressors","k":10,"v":0.05},
{"g":"Bleomycin progressors","k":6,"v":2.08},{"g":"Bleomycin progressors","k":4,"v":1.71},{"g":"Bleomycin progressors","k":8,"v":1.7},{"g":"Bleomycin progressors","k":3,"v":1.5},{"g":"Bleomycin progressors","k":9,"v":1.49},{"g":"Bleomycin progressors","k":5,"v":0.83},{"g":"Bleomycin progressors","k":7,"v":0.48},{"g":"Bleomycin progressors","k":2,"v":0.31},{"g":"Bleomycin progressors","k":10,"v":0.33},{"g":"Bleomycin progressors","k":1,"v":0.1},{"g":"Bleomycin progressors","k":11,"v":0.105}
],
"gSum":[{"g":"Saline","m":0,"lo":0,"hi":0},{"g":"Bleomycin non-progressors","m":0.175,"lo":0,"hi":0.35},{"g":"Bleomycin progressors","m":0.96,"lo":0.22,"hi":1.71}],
"hBar":[{"g":"Saline","mean":0.12,"lo":0.1,"hi":0.14},{"g":"Bleomycin non-progressors","mean":0.15,"lo":0.07,"hi":0.24},{"g":"Bleomycin progressors","mean":1.34,"lo":0.54,"hi":2.16}],
"hPts":[
{"g":"Saline","k":2,"v":0.09},{"g":"Saline","k":3,"v":0.15},{"g":"Saline","k":4,"v":0.12},{"g":"Saline","k":5,"v":0.12},{"g":"Saline","k":6,"v":0.13},
{"g":"Bleomycin non-progressors","k":1,"v":0.05},{"g":"Bleomycin non-progressors","k":2,"v":0.21},{"g":"Bleomycin non-progressors","k":3,"v":0.07},{"g":"Bleomycin non-progressors","k":4,"v":0.31},{"g":"Bleomycin non-progressors","k":5,"v":0.16},{"g":"Bleomycin non-progressors","k":6,"v":0.056},
{"g":"Bleomycin progressors","k":1,"v":0.97},{"g":"Bleomycin progressors","k":2,"v":1.83},{"g":"Bleomycin progressors","k":3,"v":0.195},{"g":"Bleomycin progressors","k":4,"v":2.42},{"g":"Bleomycin progressors","k":5,"v":1.79},{"g":"Bleomycin progressors","k":6,"v":0.88}
]
},
"vconcat":[
{"spacing":50,"resolve":{"scale":{"fill":"independent","color":"independent","xOffset":"independent"}},
 "hconcat":[
 {"title":{"text":"A","offset":7},"width":312,"height":170,
  "layer":[
   {"data":{"name":"kmA"},"mark":{"type":"line","interpolate":"step-after","strokeWidth":1.6},
    "encoding":{"x":{"field":"t","type":"quantitative","scale":{"domain":[-2.5,52.5],"nice":false,"zero":false},"axis":{"values":[0,10,20,30,40,50],"format":"d","title":"Follow-up months","labelFontSize":12,"titleFontSize":13.5,"domainColor":"#000","tickColor":"#000","labelColor":"#333","labelPadding":2}},
     "y":{"field":"s","type":"quantitative","scale":{"domain":[-0.05,1.05],"nice":false,"zero":false},"axis":{"values":[0,0.25,0.5,0.75,1],"format":".2f","title":"Overall survival probability","labelFontSize":12,"titleFontSize":13.5,"domainColor":"#000","tickColor":"#000","labelColor":"#333","labelPadding":2,"titlePadding":4}},
     "color":{"field":"g","type":"nominal","scale":{"domain":["low","high"],"range":["#F8766D","#00BFC4"]},"legend":null}}},
   {"data":{"name":"cenA"},"mark":{"type":"point","shape":"M-1,0H1M0,-1V1","filled":false,"strokeWidth":1.3,"size":40,"opacity":1},
    "encoding":{"x":{"field":"t","type":"quantitative"},"y":{"field":"s","type":"quantitative"},"color":{"field":"g","type":"nominal","legend":null}}},
   {"data":{"values":[{"lab":"Log-rank: P=0.01"}]},"mark":{"type":"text","align":"left","baseline":"middle","fontSize":13},"encoding":{"text":{"field":"lab"},"x":{"datum":0},"y":{"datum":0.205}}},
   {"data":{"values":[{"lab":"Neutrophils < 5K / μL"}]},"mark":{"type":"text","align":"right","baseline":"middle","fontSize":13},"encoding":{"text":{"field":"lab"},"x":{"datum":48.2},"y":{"datum":0.205}}},
   {"data":{"values":[{"lab":"Neutrophils > 5K / μL"}]},"mark":{"type":"text","align":"right","baseline":"middle","fontSize":13},"encoding":{"text":{"field":"lab"},"x":{"datum":48.2},"y":{"datum":0.086}}},
   {"data":{"values":[{"g":"low"}]},"mark":{"type":"point","shape":"M-1,0H1M0,0V-0.41","filled":false,"size":1024,"strokeWidth":1.6,"opacity":1},"encoding":{"x":{"datum":52.2},"y":{"datum":0.205},"color":{"field":"g","type":"nominal","legend":null}}},
   {"data":{"values":[{"g":"high"}]},"mark":{"type":"point","shape":"M-1,0H1M0,0V-0.41","filled":false,"size":1024,"strokeWidth":1.6,"opacity":1},"encoding":{"x":{"datum":52.2},"y":{"datum":0.086},"color":{"field":"g","type":"nominal","legend":null}}}
  ]},
 {"title":{"text":"B","offset":7},"width":315,"height":172,
  "layer":[
   {"data":{"name":"kmB"},"mark":{"type":"line","interpolate":"step-after","strokeWidth":1.6},
    "encoding":{"x":{"field":"t","type":"quantitative","scale":{"domain":[-2.5,52.5],"nice":false,"zero":false},"axis":{"values":[0,10,20,30,40,50],"format":"d","title":"Follow-up months","labelFontSize":12,"titleFontSize":13.5,"domainColor":"#000","tickColor":"#000","labelColor":"#333","labelPadding":2}},
     "y":{"field":"s","type":"quantitative","scale":{"domain":[-0.05,1.05],"nice":false,"zero":false},"axis":{"values":[0,0.25,0.5,0.75,1],"format":".2f","title":"Survival probability","labelFontSize":12,"titleFontSize":13.5,"domainColor":"#000","tickColor":"#000","labelColor":"#333","labelPadding":2}},
     "color":{"field":"g","type":"nominal","scale":{"domain":["low","high"],"range":["#F8766D","#00BFC4"]},"legend":null}}},
   {"data":{"name":"cenB"},"mark":{"type":"point","shape":"M-1,0H1M0,-1V1","filled":false,"strokeWidth":1.3,"size":40,"opacity":1},
    "encoding":{"x":{"field":"t","type":"quantitative"},"y":{"field":"s","type":"quantitative"},"color":{"field":"g","type":"nominal","legend":null}}},
   {"data":{"values":[{"lab":"Log-rank: P=0.002"}]},"mark":{"type":"text","align":"left","baseline":"middle","fontSize":13},"encoding":{"text":{"field":"lab"},"x":{"datum":-0.7},"y":{"datum":0.188}}},
   {"data":{"values":[{"lab":"Neutrophils < 5K / μL"}]},"mark":{"type":"text","align":"right","baseline":"middle","fontSize":13},"encoding":{"text":{"field":"lab"},"x":{"datum":50.6},"y":{"datum":0.145}}},
   {"data":{"values":[{"lab":"Neutrophils > 5K / μL"}]},"mark":{"type":"text","align":"right","baseline":"middle","fontSize":13},"encoding":{"text":{"field":"lab"},"x":{"datum":50.6},"y":{"datum":0.028}}},
   {"data":{"values":[{"g":"low"}]},"mark":{"type":"point","shape":"M-1,0H1M0,0V-0.52","filled":false,"size":1024,"strokeWidth":1.6,"opacity":1},"encoding":{"x":{"datum":54.5},"y":{"datum":0.145},"color":{"field":"g","type":"nominal","legend":null}}},
   {"data":{"values":[{"g":"high"}]},"mark":{"type":"point","shape":"M-1,0H1M0,0V-0.52","filled":false,"size":1024,"strokeWidth":1.6,"opacity":1},"encoding":{"x":{"datum":54.5},"y":{"datum":0.028},"color":{"field":"g","type":"nominal","legend":null}}}
  ]}
 ]},
{"spacing":6,"align":"none","resolve":{"scale":{"fill":"independent","color":"independent","xOffset":"independent"}},
 "vconcat":[
{"spacing":10,"resolve":{"scale":{"fill":"independent","color":"independent","xOffset":"independent"}},
 "hconcat":[
 {"title":{"text":"C","offset":38},"width":319,"height":143,"data":{"name":"mice"},
  "layer":[
   {"mark":{"type":"line","color":"#1a1a1a","strokeWidth":0.9},
    "encoding":{"x":{"field":"d","type":"quantitative","scale":{"domain":[-0.25,21.6],"nice":false,"zero":false},"axis":{"values":[0,1,2,3,4,5,6,7,8,9,10,11,12,13,14,15,16,17,18,19,20,21],"format":"d","title":"Days post-bleomycin treatment","labelFontSize":11.5,"titleFontSize":12.5}},
     "y":{"field":"w","type":"quantitative","scale":{"domain":[0,120],"nice":false},"axis":{"values":[0,5,10,15,20,25,30,35,40,45,50,55,60,65,70,75,80,85,90,95,100,105,110,115,120],"format":"d","labelExpr":"datum.value % 50 === 0 ? datum.label : ''","tickSize":{"condition":{"test":"datum.value % 50 === 0","value":4},"value":2.5},"title":"% starting body weight","labelFontSize":11.5,"titleFontSize":12.5,"titlePadding":2,"labelPadding":1}},
     "detail":{"field":"m"}}},
   {"transform":[{"filter":"!datum.dead"}],"mark":{"type":"point","filled":true,"size":40,"stroke":"#333","strokeWidth":0.8,"opacity":1},
    "encoding":{"x":{"field":"d","type":"quantitative"},"y":{"field":"w","type":"quantitative"},
     "fill":{"field":"g","type":"nominal","scale":{"domain":["Saline","Bleomycin"],"range":["#FFFFFF","#FFCA4F"]},
      "legend":{"title":null,"orient":"none","legendX":12,"legendY":114,"symbolType":"M-2.3,0H-1M1,0H2.3M-1,0A1,1 0 1 0 1,0A1,1 0 1 0 -1,0","symbolSize":44,"symbolStrokeColor":"#222","symbolStrokeWidth":1,"labelFontSize":11.5,"labelOffset":10,"rowPadding":0}}}},
   {"transform":[{"filter":"datum.dead"}],"mark":{"type":"point","shape":"M-1,-1L1,1M-1,1L1,-1","filled":false,"stroke":"#222","size":30,"strokeWidth":1,"opacity":1},
    "encoding":{"x":{"field":"d","type":"quantitative"},"y":{"field":"w","type":"quantitative"}}},
   {"data":{"values":[{"cut":85}]},"mark":{"type":"rule","stroke":"#FF2A2A","strokeDash":[7,4],"strokeWidth":1.8},"encoding":{"y":{"field":"cut","type":"quantitative"}}}
  ]},
 {"spacing":6,"resolve":{"scale":{"fill":"independent","color":"independent","xOffset":"independent"}},
  "hconcat":[
  {"title":{"text":"D","offset":0,"dy":19},"width":143,"height":143,
   "layer":[
    {"data":{"name":"dBar"},"mark":{"type":"bar","stroke":"#333","strokeWidth":1},
     "encoding":{"x":{"field":"g","type":"nominal","scale":{"domain":["Saline","Bleomycin non-progressors","Bleomycin progressors"],"paddingInner":0.36,"paddingOuter":0.35},"axis":{"title":null,"labelAngle":-45,"labelFontSize":10.5,"tickSize":5}},
      "y":{"field":"mean","type":"quantitative","scale":{"domain":[60,110],"nice":false,"zero":false},"axis":{"values":[60,70,80,90,100,110],"format":"d","title":"% starting body weight","tickSize":5,"labelFontSize":11.5,"titleFontSize":12.5,"titlePadding":2,"labelPadding":1}},
      "y2":{"datum":60},
      "fill":{"field":"g","type":"nominal","scale":{"domain":["Saline","Bleomycin non-progressors","Bleomycin progressors"],"range":["#E6E6E6","#FFCA4F","#13C3F1"]},"legend":null}}},
    {"data":{"name":"dBar"},"mark":{"type":"rule","color":"#222","strokeWidth":1.1},"encoding":{"x":{"field":"g","type":"nominal"},"y":{"field":"lo","type":"quantitative"},"y2":{"field":"hi"}}},
    {"data":{"name":"dBar"},"mark":{"type":"tick","color":"#222","size":13,"thickness":1.1,"opacity":1},"encoding":{"x":{"field":"g","type":"nominal"},"y":{"field":"lo","type":"quantitative"}}},
    {"data":{"name":"dBar"},"mark":{"type":"tick","color":"#222","size":13,"thickness":1.1,"opacity":1},"encoding":{"x":{"field":"g","type":"nominal"},"y":{"field":"hi","type":"quantitative"}}},
    {"data":{"name":"dPts"},"mark":{"type":"circle","size":24,"color":"#000","opacity":1},"encoding":{"x":{"field":"g","type":"nominal"},"xOffset":{"field":"k","type":"ordinal","scale":{"domain":[1,2,3,4,5,6,7,8,9,10,11]}},"y":{"field":"v","type":"quantitative"}}},
    {"data":{"values":[{}]},"mark":{"type":"rule","color":"#555","strokeWidth":1},"encoding":{"x":{"datum":"Saline"},"x2":{"datum":"Bleomycin progressors"},"y":{"datum":116.6}}},
    {"data":{"values":[{}]},"mark":{"type":"rule","color":"#555","strokeWidth":1},"encoding":{"x":{"datum":"Saline"},"x2":{"datum":"Bleomycin non-progressors"},"y":{"datum":110.6}}},
    {"data":{"values":[{}]},"mark":{"type":"rule","color":"#555","strokeWidth":1},"encoding":{"x":{"datum":"Bleomycin non-progressors"},"x2":{"datum":"Bleomycin progressors"},"y":{"datum":107.3}}},
    {"data":{"values":[{"s":"****"}]},"mark":{"type":"text","fontSize":8,"baseline":"bottom","dy":-1},"encoding":{"text":{"field":"s"},"x":{"datum":"Bleomycin non-progressors"},"y":{"datum":116.6}}},
    {"data":{"values":[{"s":"***"}]},"mark":{"type":"text","fontSize":8,"baseline":"bottom","dy":-1},"encoding":{"text":{"field":"s"},"x":{"datum":"Bleomycin non-progressors","bandPosition":-0.28},"y":{"datum":110.6}}},
    {"data":{"values":[{"s":"****"}]},"mark":{"type":"text","fontSize":8,"baseline":"bottom","dy":-1},"encoding":{"text":{"field":"s"},"x":{"datum":"Bleomycin progressors","bandPosition":-0.28},"y":{"datum":107.3}}},
    {"data":{"values":[{"s":"Weight after bleomycin"}]},"mark":{"type":"text","fontSize":11.5,"baseline":"middle"},"encoding":{"text":{"field":"s"},"x":{"datum":"Bleomycin non-progressors"},"y":{"datum":128.3}}},
    {"data":{"values":[{"s":"Day 12"}]},"mark":{"type":"text","fontSize":10.5,"baseline":"middle"},"encoding":{"text":{"field":"s"},"x":{"datum":"Bleomycin non-progressors"},"y":{"datum":123.6}}}
   ]},
  {"title":{"text":"E","offset":38},"width":216,"height":144,"data":{"name":"kmE"},
   "layer":[
    {"mark":{"type":"line","interpolate":"step-after","color":"#555","strokeWidth":1.2},
     "encoding":{"x":{"field":"t","type":"quantitative","scale":{"domain":[0,25],"nice":false},"axis":{"values":[0,5,10,15,20,25],"format":"d","title":"Days post-bleomycin","labelFontSize":11.5,"titleFontSize":12.5}},
      "y":{"field":"p","type":"quantitative","scale":{"domain":[0,110],"nice":false},"axis":{"values":[0,5,10,15,20,25,30,35,40,45,50,55,60,65,70,75,80,85,90,95,100,105,110],"format":"d","labelExpr":"datum.value % 50 === 0 ? datum.label : ''","tickSize":{"condition":{"test":"datum.value % 50 === 0","value":4},"value":2.5},"title":"Probability of Survival","labelFontSize":11.5,"titleFontSize":12.5,"titlePadding":1,"labelPadding":1}},
      "detail":{"field":"g"}}},
    {"transform":[{"filter":"datum.t > 0"}],"mark":{"type":"point","filled":true,"size":45,"stroke":"#333","strokeWidth":0.8,"opacity":1},
     "encoding":{"x":{"field":"t","type":"quantitative"},"y":{"field":"p","type":"quantitative"},
      "fill":{"field":"g","type":"nominal","scale":{"domain":["Saline","Bleomycin","Bleomycin progressors"],"range":["#FFFFFF","#FFCA4F","#13C3F1"]},
       "legend":{"title":null,"orient":"none","legendX":12,"legendY":101,"symbolType":"M-2.3,0H-1M1,0H2.3M-1,0A1,1 0 1 0 1,0A1,1 0 1 0 -1,0","symbolSize":44,"symbolStrokeColor":"#222","symbolStrokeWidth":1,"labelFontSize":11,"labelOffset":10,"rowPadding":1}}}},
    {"data":{"values":[{}]},"mark":{"type":"rule","color":"#555","strokeWidth":1},"encoding":{"x":{"datum":23},"y":{"datum":102},"y2":{"datum":50}}},
    {"data":{"values":[{"s":"**"}]},"mark":{"type":"text","fontSize":9,"baseline":"middle"},"encoding":{"text":{"field":"s"},"x":{"datum":24.3},"y":{"datum":76}}}
   ]}
  ]}
 ]},
{"spacing":10,"resolve":{"scale":{"fill":"independent","color":"independent","xOffset":"independent"}},
 "hconcat":[
 {"title":{"text":"F","offset":35},"width":314,"height":143,"data":{"name":"fSum"},
  "layer":[
   {"mark":{"type":"line","color":"#111","strokeWidth":1.6},
    "encoding":{"x":{"field":"d","type":"quantitative","scale":{"domain":[-0.28,21.48],"nice":false,"zero":false},"axis":{"values":[0,1,2,3,4,5,6,7,8,9,10,11,12,13,14,15,16,17,18,19,20,21],"format":"d","title":"Days post-bleomycin treatment","labelFontSize":11.5,"titleFontSize":12.5}},
     "y":{"field":"m","type":"quantitative","scale":{"domain":[0,120],"nice":false},"axis":{"values":[0,5,10,15,20,25,30,35,40,45,50,55,60,65,70,75,80,85,90,95,100,105,110,115,120],"format":"d","labelExpr":"datum.value % 50 === 0 ? datum.label : ''","tickSize":{"condition":{"test":"datum.value % 50 === 0","value":4},"value":2.5},"title":"% starting body weight","labelFontSize":11.5,"titleFontSize":12.5,"titlePadding":2,"labelPadding":1}},
     "detail":{"field":"g"}}},
   {"mark":{"type":"rule","color":"#444","strokeWidth":1},"encoding":{"x":{"field":"d","type":"quantitative"},"y":{"field":"lo","type":"quantitative"},"y2":{"field":"hi"}}},
   {"mark":{"type":"tick","orient":"horizontal","color":"#444","size":8,"thickness":1,"opacity":1},"encoding":{"x":{"field":"d","type":"quantitative"},"y":{"field":"lo","type":"quantitative"}}},
   {"mark":{"type":"tick","orient":"horizontal","color":"#444","size":8,"thickness":1,"opacity":1},"encoding":{"x":{"field":"d","type":"quantitative"},"y":{"field":"hi","type":"quantitative"}}},
   {"mark":{"type":"point","filled":true,"size":60,"stroke":"#222","strokeWidth":0.9,"opacity":1},
    "encoding":{"x":{"field":"d","type":"quantitative"},"y":{"field":"m","type":"quantitative"},
     "fill":{"field":"g","type":"nominal","scale":{"domain":["Saline","Bleomycin non-progressors","Bleomycin progressors"],"range":["#FFFFFF","#FFCA4F","#13C3F1"]},
      "legend":{"title":null,"orient":"none","legendX":12,"legendY":100,"symbolType":"M-2.3,0H-1M1,0H2.3M-1,0A1,1 0 1 0 1,0A1,1 0 1 0 -1,0","symbolSize":50,"symbolStrokeColor":"#222","symbolStrokeWidth":1.2,"labelFontSize":11.5,"labelOffset":10,"rowPadding":0}}}},
   {"transform":[{"filter":"datum.sig"}],"mark":{"type":"text","fontSize":7,"lineHeight":7,"baseline":"top","dy":2,"color":"#555"},
    "encoding":{"text":{"field":"sig"},"x":{"field":"d","type":"quantitative"},"y":{"field":"lo","type":"quantitative"}}}
  ]},
 {"spacing":37,"resolve":{"scale":{"fill":"independent","color":"independent","xOffset":"independent"}},
  "hconcat":[
  {"title":{"text":"G","offset":0,"dy":11},"width":141,"height":143,
   "layer":[
    {"data":{"name":"gPts"},"mark":{"type":"point","filled":true,"size":45,"stroke":"#333","strokeWidth":0.8,"opacity":1},
     "encoding":{"x":{"field":"g","type":"nominal","scale":{"domain":["Saline","Bleomycin non-progressors","Bleomycin progressors"],"paddingInner":0.25,"paddingOuter":0.25},"axis":{"title":null,"labelAngle":-45,"labelFontSize":10.5,"tickSize":5}},
      "xOffset":{"field":"k","type":"ordinal","scale":{"domain":[1,2,3,4,5,6,7,8,9,10,11]}},
      "y":{"field":"v","type":"quantitative","scale":{"domain":[0,2.5],"nice":false},"axis":{"values":[0,0.5,1,1.5,2,2.5],"format":".1f","title":"Fold change in neutrophils/mL BALF","tickSize":5,"labelFontSize":11.5,"titleFontSize":12.5,"titlePadding":2,"labelPadding":1}},
      "fill":{"field":"g","type":"nominal","scale":{"domain":["Saline","Bleomycin non-progressors","Bleomycin progressors"],"range":["#FFFFFF","#FFCA4F","#13C3F1"]},"legend":null}}},
    {"data":{"name":"gSum"},"mark":{"type":"tick","color":"#444","size":40,"thickness":1.2,"opacity":1},"encoding":{"x":{"field":"g","type":"nominal"},"y":{"field":"m","type":"quantitative"}}},
    {"data":{"name":"gSum"},"mark":{"type":"rule","color":"#444","strokeWidth":1.1},"encoding":{"x":{"field":"g","type":"nominal"},"y":{"field":"lo","type":"quantitative"},"y2":{"field":"hi"}}},
    {"data":{"name":"gSum"},"mark":{"type":"tick","color":"#444","size":20,"thickness":1.1,"opacity":1},"encoding":{"x":{"field":"g","type":"nominal"},"y":{"field":"lo","type":"quantitative"}}},
    {"data":{"name":"gSum"},"mark":{"type":"tick","color":"#444","size":20,"thickness":1.1,"opacity":1},"encoding":{"x":{"field":"g","type":"nominal"},"y":{"field":"hi","type":"quantitative"}}},
    {"data":{"values":[{}]},"mark":{"type":"rule","color":"#555","strokeWidth":1},"encoding":{"x":{"datum":"Saline"},"x2":{"datum":"Bleomycin progressors"},"y":{"datum":2.69}}},
    {"data":{"values":[{}]},"mark":{"type":"rule","color":"#555","strokeWidth":1},"encoding":{"x":{"datum":"Bleomycin non-progressors"},"x2":{"datum":"Bleomycin progressors"},"y":{"datum":2.41}}},
    {"data":{"values":[{}]},"mark":{"type":"rule","color":"#555","strokeWidth":1},"encoding":{"x":{"datum":"Saline"},"x2":{"datum":"Bleomycin non-progressors"},"y":{"datum":0.69}}},
    {"data":{"values":[{"s":"***"}]},"mark":{"type":"text","fontSize":8,"baseline":"bottom","dy":-1},"encoding":{"text":{"field":"s"},"x":{"datum":"Bleomycin non-progressors"},"y":{"datum":2.69}}},
    {"data":{"values":[{"s":"**"}]},"mark":{"type":"text","fontSize":8,"baseline":"bottom","dy":-1},"encoding":{"text":{"field":"s"},"x":{"datum":"Bleomycin progressors","bandPosition":-0.17},"y":{"datum":2.41}}},
    {"data":{"values":[{"s":"p = 0.78"}]},"mark":{"type":"text","fontSize":8,"baseline":"bottom","dy":-2},"encoding":{"text":{"field":"s"},"x":{"datum":"Bleomycin non-progressors","bandPosition":-0.17},"y":{"datum":0.69}}},
    {"data":{"values":[{"s":"Neutrophils"}]},"mark":{"type":"text","fontSize":13,"baseline":"middle"},"encoding":{"text":{"field":"s"},"x":{"datum":"Bleomycin non-progressors"},"y":{"datum":3.3}}},
    {"data":{"values":[{"s":"CD45⁺ Ly6G⁺ CD11b⁺"}]},"mark":{"type":"text","fontSize":9.5,"baseline":"middle"},"encoding":{"text":{"field":"s"},"x":{"datum":"Bleomycin non-progressors"},"y":{"datum":3.08}}}
   ]},
  {"title":{"text":"H","offset":0,"dy":11},"width":144,"height":143,
   "layer":[
    {"data":{"name":"hBar"},"mark":{"type":"bar","stroke":"#333","strokeWidth":1},
     "encoding":{"x":{"field":"g","type":"nominal","scale":{"domain":["Saline","Bleomycin non-progressors","Bleomycin progressors"],"paddingInner":0.35,"paddingOuter":0.35},"axis":{"title":null,"labelAngle":-45,"labelFontSize":10.5,"tickSize":5}},
      "y":{"field":"mean","type":"quantitative","scale":{"domain":[0,3],"nice":false},"axis":{"values":[0,1,2,3],"format":"d","title":"Neutrophil:lymphocyte","tickSize":5,"labelFontSize":11.5,"titleFontSize":12.5,"titlePadding":2,"labelPadding":1}},
      "fill":{"field":"g","type":"nominal","scale":{"domain":["Saline","Bleomycin non-progressors","Bleomycin progressors"],"range":["#E6E6E6","#FFCA4F","#13C3F1"]},"legend":null}}},
    {"data":{"name":"hBar"},"mark":{"type":"rule","color":"#222","strokeWidth":1.1},"encoding":{"x":{"field":"g","type":"nominal"},"y":{"field":"lo","type":"quantitative"},"y2":{"field":"hi"}}},
    {"data":{"name":"hBar"},"mark":{"type":"tick","color":"#222","size":13,"thickness":1.1,"opacity":1},"encoding":{"x":{"field":"g","type":"nominal"},"y":{"field":"lo","type":"quantitative"}}},
    {"data":{"name":"hBar"},"mark":{"type":"tick","color":"#222","size":13,"thickness":1.1,"opacity":1},"encoding":{"x":{"field":"g","type":"nominal"},"y":{"field":"hi","type":"quantitative"}}},
    {"data":{"name":"hPts"},"mark":{"type":"circle","size":24,"color":"#000","opacity":1},"encoding":{"x":{"field":"g","type":"nominal"},"xOffset":{"field":"k","type":"ordinal","scale":{"domain":[1,2,3,4,5,6]}},"y":{"field":"v","type":"quantitative"}}},
    {"data":{"values":[{}]},"mark":{"type":"rule","color":"#555","strokeWidth":1},"encoding":{"x":{"datum":"Saline"},"x2":{"datum":"Bleomycin progressors"},"y":{"datum":3.2}}},
    {"data":{"values":[{}]},"mark":{"type":"rule","color":"#555","strokeWidth":1},"encoding":{"x":{"datum":"Bleomycin non-progressors"},"x2":{"datum":"Bleomycin progressors"},"y":{"datum":2.73}}},
    {"data":{"values":[{}]},"mark":{"type":"rule","color":"#555","strokeWidth":1},"encoding":{"x":{"datum":"Saline"},"x2":{"datum":"Bleomycin non-progressors"},"y":{"datum":0.64}}},
    {"data":{"values":[{"s":"**"}]},"mark":{"type":"text","fontSize":8,"baseline":"bottom","dy":-1},"encoding":{"text":{"field":"s"},"x":{"datum":"Bleomycin non-progressors"},"y":{"datum":3.2}}},
    {"data":{"values":[{"s":"**"}]},"mark":{"type":"text","fontSize":8,"baseline":"bottom","dy":-1},"encoding":{"text":{"field":"s"},"x":{"datum":"Bleomycin progressors","bandPosition":-0.27},"y":{"datum":2.73}}},
    {"data":{"values":[{"s":"p > 0.99"}]},"mark":{"type":"text","fontSize":8,"baseline":"bottom","dy":-2},"encoding":{"text":{"field":"s"},"x":{"datum":"Bleomycin non-progressors","bandPosition":-0.27},"y":{"datum":0.64}}},
    {"data":{"values":[{"s":"NLR"}]},"mark":{"type":"text","fontSize":13,"baseline":"middle"},"encoding":{"text":{"field":"s"},"x":{"datum":"Bleomycin non-progressors"},"y":{"datum":3.94}}}
   ]}
  ]}
 ]}
 ]}
]
}
